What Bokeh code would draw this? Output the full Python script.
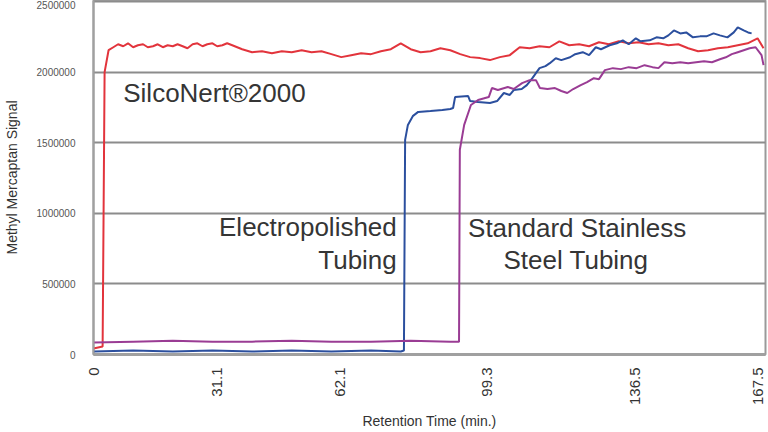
import math
from bokeh.plotting import figure
from bokeh.models import Label, FixedTicker
from bokeh.embed import file_html
from bokeh.resources import INLINE

# ---- data (retention time in min, methyl mercaptan signal) ----
silconert_time = [0, 2.3, 2.8, 3.8, 5.0, 6.2, 7.5, 8.7, 10.0, 11.2, 12.5, 13.7, 15.0, 16.2, 17.5,
                  18.7, 20.0, 21.2, 22.5, 23.7, 25.0, 26.2, 27.5, 28.7, 30.0, 31.2, 32.5, 33.7,
                  35.0, 37.5, 40.0, 42.5, 45.0, 47.5, 50.0, 52.5, 55.0, 57.5, 60.0,
                  62.5, 65.0, 67.5, 70.0, 72.5, 75.0, 77.5, 80.0, 82.5, 85.0, 87.5, 90.0, 92.5,
                  95.0, 97.5, 100.0, 102.5, 105.0, 107.5, 110.0, 112.5, 115.0, 117.5, 120.0,
                  122.5, 125.0, 127.5, 130.0, 132.5, 135.0, 137.5, 140.0, 142.5, 145.0, 147.5,
                  150.0, 152.5, 155.0, 157.5, 160.0, 162.5, 165.0, 167.5, 169.0]
silconert_signal = [42000, 56000, 2000000, 2155000, 2176000, 2197000, 2183000, 2204000, 2176000,
                    2190000, 2197000, 2176000, 2183000, 2197000, 2176000, 2190000, 2183000,
                    2197000, 2183000, 2169000, 2197000, 2204000, 2183000, 2197000, 2204000,
                    2183000, 2190000, 2204000, 2190000,
                    2162000, 2141000, 2148000, 2134000, 2148000, 2141000, 2155000, 2141000,
                    2148000, 2127000, 2106000, 2120000, 2134000, 2127000, 2148000, 2162000,
                    2204000, 2162000, 2141000, 2148000, 2169000, 2155000, 2127000, 2106000,
                    2099000, 2085000, 2106000, 2120000, 2176000, 2169000, 2183000, 2176000,
                    2218000, 2190000, 2197000, 2183000, 2211000, 2197000, 2218000, 2204000,
                    2211000, 2197000, 2204000, 2190000, 2197000, 2169000, 2148000, 2155000,
                    2169000, 2176000, 2190000, 2204000, 2239000, 2169000]

electro_time = [0, 10, 20, 30, 40, 50, 60, 70, 77.5, 78.3, 78.6, 79.3, 80.6, 81.9, 85.0, 88.0,
                90.0, 90.7, 91.2, 94.5, 95.0, 97.0, 100.0, 101.8, 103.5, 105.0, 106.0, 108.0,
                109.3, 110.7, 112.5, 114.0, 115.1, 116.6, 118.0, 120.2, 121.5, 123.4, 125.0,
                126.7, 128.0, 130.2, 132.0, 133.5, 135.0, 136.8, 138.0, 140.3, 142.0, 143.7,
                145.0, 146.4, 148.0, 149.5, 151.2, 153.0, 154.6, 156.4, 158.0, 159.9, 161.5,
                162.5, 164.0, 165.1, 166.0]
electro_signal = [21000, 28000, 21000, 28000, 21000, 28000, 21000, 28000, 21000, 28000,
                  1520000, 1626000, 1690000, 1718000, 1725000, 1732000, 1739000, 1746000,
                  1823000, 1830000, 1795000, 1788000, 1781000, 1795000, 1852000, 1838000,
                  1873000, 1880000, 1908000, 1957000, 2028000, 2042000, 2063000, 2098000,
                  2085000, 2105000, 2127000, 2141000, 2120000, 2176000, 2162000, 2190000,
                  2204000, 2225000, 2197000, 2239000, 2218000, 2225000, 2246000, 2239000,
                  2260000, 2295000, 2274000, 2281000, 2246000, 2253000, 2253000, 2274000,
                  2260000, 2246000, 2281000, 2316000, 2295000, 2281000, 2274000]

stainless_time = [0, 10, 20, 30, 40, 50, 60, 70, 80, 90, 92.2, 92.4, 93.5, 95.2, 97.0, 99.7,
                  100.5, 102.0, 104.5, 106.0, 108.1, 110.0, 111.6, 112.6, 114.5, 116.4, 118.0,
                  119.5, 121.0, 122.9, 124.5, 126.2, 127.5, 129.0, 131.0, 133.0, 135.0, 137.0,
                  139.0, 141.0, 142.5, 144.0, 146.0, 148.0, 150.0, 152.0, 154.0, 156.0, 158.0,
                  159.5, 161.0, 162.5, 164.0, 165.5, 167.0, 168.5, 169.0]
stainless_signal = [85000, 91000, 98000, 91000, 91000, 98000, 91000, 91000, 98000, 91000,
                    91000, 1450000, 1626000, 1767000, 1802000, 1823000, 1887000, 1873000,
                    1894000, 1880000, 1922000, 1943000, 1943000, 1887000, 1880000, 1887000,
                    1866000, 1852000, 1880000, 1908000, 1929000, 1957000, 1950000, 2014000,
                    2028000, 2021000, 2035000, 2028000, 2049000, 2035000, 2028000, 2070000,
                    2063000, 2070000, 2063000, 2070000, 2077000, 2070000, 2091000, 2105000,
                    2127000, 2141000, 2155000, 2169000, 2176000, 2120000, 2049000]

x_ticks = [0, 31.1, 62.1, 99.3, 136.5, 167.5]
x_tick_labels = ["0", "31.1", "62.1", "99.3", "136.5", "167.5"]
y_ticks = [0, 500000, 1000000, 1500000, 2000000, 2500000]
y_tick_labels = ["0", "500000", "1000000", "1500000", "2000000", "2500000"]

FONT = "Liberation Sans"

p = figure(width=768, height=432, x_range=(0, 169.5), y_range=(0, 2507000),
           output_backend="svg", toolbar_location=None,
           min_border_left=92, min_border_right=3, min_border_top=0, min_border_bottom=76)
p.background_fill_color = "white"
p.border_fill_color = "white"
p.outline_line_color = "#9a9a9a"
p.outline_line_width = 2

p.line(silconert_time, silconert_signal, line_color="#e2343c", line_width=2)
p.line(electro_time, electro_signal, line_color="#2b4f9e", line_width=2)
p.line(stainless_time, stainless_signal, line_color="#9a3c94", line_width=2)

# axes
p.xaxis.ticker = FixedTicker(ticks=x_ticks)
p.xaxis.major_label_overrides = {t: l for t, l in zip(x_ticks, x_tick_labels)}
p.xaxis.major_label_orientation = math.pi / 2
p.xaxis.major_label_text_font = FONT
p.xaxis.major_label_text_font_size = "15px"
p.xaxis.major_label_text_color = "#333333"
p.xaxis.major_label_standoff = 7
p.xaxis.axis_label = "Retention Time (min.)"
p.xaxis.axis_label_text_font = FONT
p.xaxis.axis_label_text_font_style = "normal"
p.xaxis.axis_label_text_font_size = "14px"
p.xaxis.axis_label_text_color = "#333333"
p.xaxis.axis_label_standoff = 5
p.xaxis.axis_line_color = "#a0a0a0"
p.xaxis.axis_line_width = 3
p.xaxis.major_tick_line_color = None
p.xaxis.minor_tick_line_color = None

p.yaxis.ticker = FixedTicker(ticks=y_ticks)
p.yaxis.major_label_overrides = {t: l for t, l in zip(y_ticks, y_tick_labels)}
p.yaxis.major_label_text_font = FONT
p.yaxis.major_label_text_font_size = "10px"
p.yaxis.major_label_text_color = "#555555"
p.yaxis.major_label_standoff = 12
p.yaxis.axis_label = "Methyl Mercaptan Signal"
p.yaxis.axis_label_text_font = FONT
p.yaxis.axis_label_text_font_style = "normal"
p.yaxis.axis_label_text_font_size = "14px"
p.yaxis.axis_label_text_color = "#333333"
p.yaxis.axis_label_standoff = 14
p.yaxis.axis_line_color = "#a0a0a0"
p.yaxis.axis_line_width = 2
p.yaxis.major_tick_line_color = None
p.yaxis.minor_tick_line_color = None

p.xgrid.grid_line_color = None
p.ygrid.grid_line_color = "#8c8c8c"
p.ygrid.grid_line_width = 2

# annotations
def add_label(x, y, text, align):
    p.add_layout(Label(x=x, y=y, text=text, text_align=align, text_baseline="alphabetic",
                       text_font=FONT, text_font_size="26px", text_color="#353535"))

add_label(7.5, 1855000, "SilcoNert®2000", "left")
add_label(76.5, 903000, "Electropolished", "right")
add_label(76.5, 671000, "Tubing", "right")
add_label(122.0, 896000, "Standard Stainless", "center")
add_label(121.7, 671000, "Steel Tubing", "center")

open("out.html", "w").write(file_html(p, INLINE))
